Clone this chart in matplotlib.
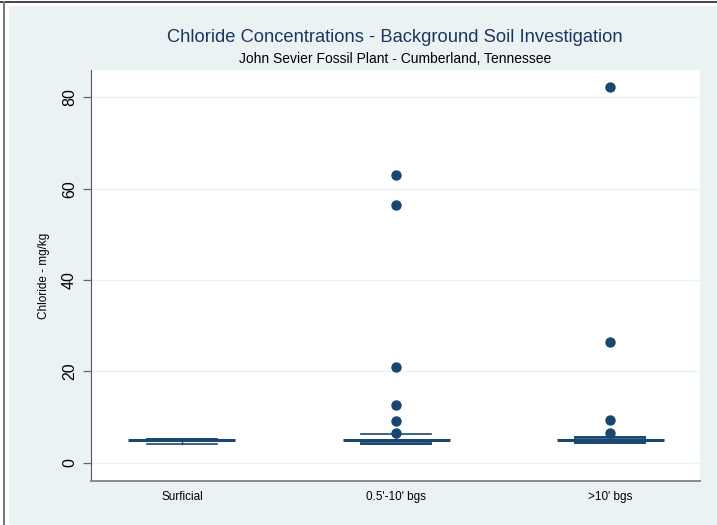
import matplotlib
matplotlib.use("Agg")
import matplotlib.pyplot as plt
from matplotlib.patches import Rectangle
from matplotlib.lines import Line2D

plt.rcParams["font.family"] = ["Liberation Sans", "DejaVu Sans"]

NAVY = "#1a476f"
BOX_FILL = "#3d6891"
BG = "#eaf2f3"

groups = ["Surficial", "0.5'-10' bgs", ">10' bgs"]
q1 = [4.7, 4.2, 4.4]
median = [4.9, 4.9, 5.0]
q3 = [5.3, 5.0, 5.6]
whisker_lo = [4.2, 4.2, 4.4]
whisker_hi = [5.3, 6.3, 5.6]
outliers = [
    [],
    [6.6, 9.1, 12.7, 20.9, 56.4, 63.0],
    [6.6, 9.4, 26.4, 82.3],
]
y_ticks = [0, 20, 40, 60, 80]

fig = plt.figure(figsize=(7.17, 5.25), dpi=100, facecolor="white")

# frame: light panel with a thin border line on the top and left
fig.patches.append(Rectangle((9 / 717, 0), 1, (525 - 6) / 525, transform=fig.transFigure,
                             facecolor=BG, edgecolor="none", zorder=-10))
fig.lines.append(Line2D([0, 1], [1 - 1.5 / 525] * 2, transform=fig.transFigure,
                        color="#222222", linewidth=1.2, zorder=-5))
fig.lines.append(Line2D([3.5 / 717] * 2, [0, 1 - 1.5 / 525], transform=fig.transFigure,
                        color="#777777", linewidth=1.4, zorder=-5))

ax = fig.add_axes([91 / 717, 44 / 525, 609 / 717, 411 / 525])
ax.set_zorder(1)
ax.set_facecolor("white")

box_w = 0.33
med_w = 0.5
for i in range(len(groups)):
    ax.add_patch(Rectangle((i - box_w / 2, q1[i]), box_w, q3[i] - q1[i],
                           facecolor=BOX_FILL, edgecolor=NAVY, linewidth=1.2, zorder=3))
    ax.plot([i - med_w / 2, i + med_w / 2], [median[i]] * 2, color=NAVY, linewidth=2.2,
            solid_capstyle="butt", zorder=4)
    # whiskers and caps
    ax.plot([i, i], [q3[i], whisker_hi[i]], color=NAVY, linewidth=1.0, zorder=3)
    ax.plot([i, i], [whisker_lo[i], q1[i]], color=NAVY, linewidth=1.0, zorder=3)
    ax.plot([i - box_w / 2, i + box_w / 2], [whisker_hi[i]] * 2, color=NAVY, linewidth=1.2, zorder=3)
    ax.plot([i - box_w / 2, i + box_w / 2], [whisker_lo[i]] * 2, color=NAVY, linewidth=1.2, zorder=3)
    if outliers[i]:
        ax.plot([i] * len(outliers[i]), outliers[i], "o", color=NAVY, markersize=7.5,
                markeredgewidth=0, zorder=5)

ax.set_xlim(-0.425, 2.42)
ax.set_ylim(-4.0, 86.0)
ax.set_xticks(range(len(groups)))
ax.set_xticklabels(groups, fontsize=8.5)
ax.set_yticks(y_ticks)
ax.set_yticklabels([str(t) for t in y_ticks], fontsize=11.5, rotation=90, va="center")
ax.set_ylabel("Chloride - mg/kg", fontsize=8.5, labelpad=9)

ax.grid(True, axis="y", color=BG, linewidth=1.0)
ax.set_axisbelow(True)
ax.tick_params(axis="x", length=0, pad=7)
ax.tick_params(axis="y", length=6, width=0.9, color="#666666", pad=4)
for side in ["top", "right"]:
    ax.spines[side].set_visible(False)
ax.spines["left"].set_color("#555555")
ax.spines["bottom"].set_color("#888888")
ax.spines["bottom"].set_linewidth(1.4)

fig.text(395 / 717, 1 - 37 / 525, "Chloride Concentrations - Background Soil Investigation",
         ha="center", va="center", fontsize=13.2, color="#1e3560")
fig.text(395 / 717, 1 - 59 / 525, "John Sevier Fossil Plant - Cumberland, Tennessee",
         ha="center", va="center", fontsize=10, color="black")

fig.savefig("out.png", dpi=100, facecolor="white")
